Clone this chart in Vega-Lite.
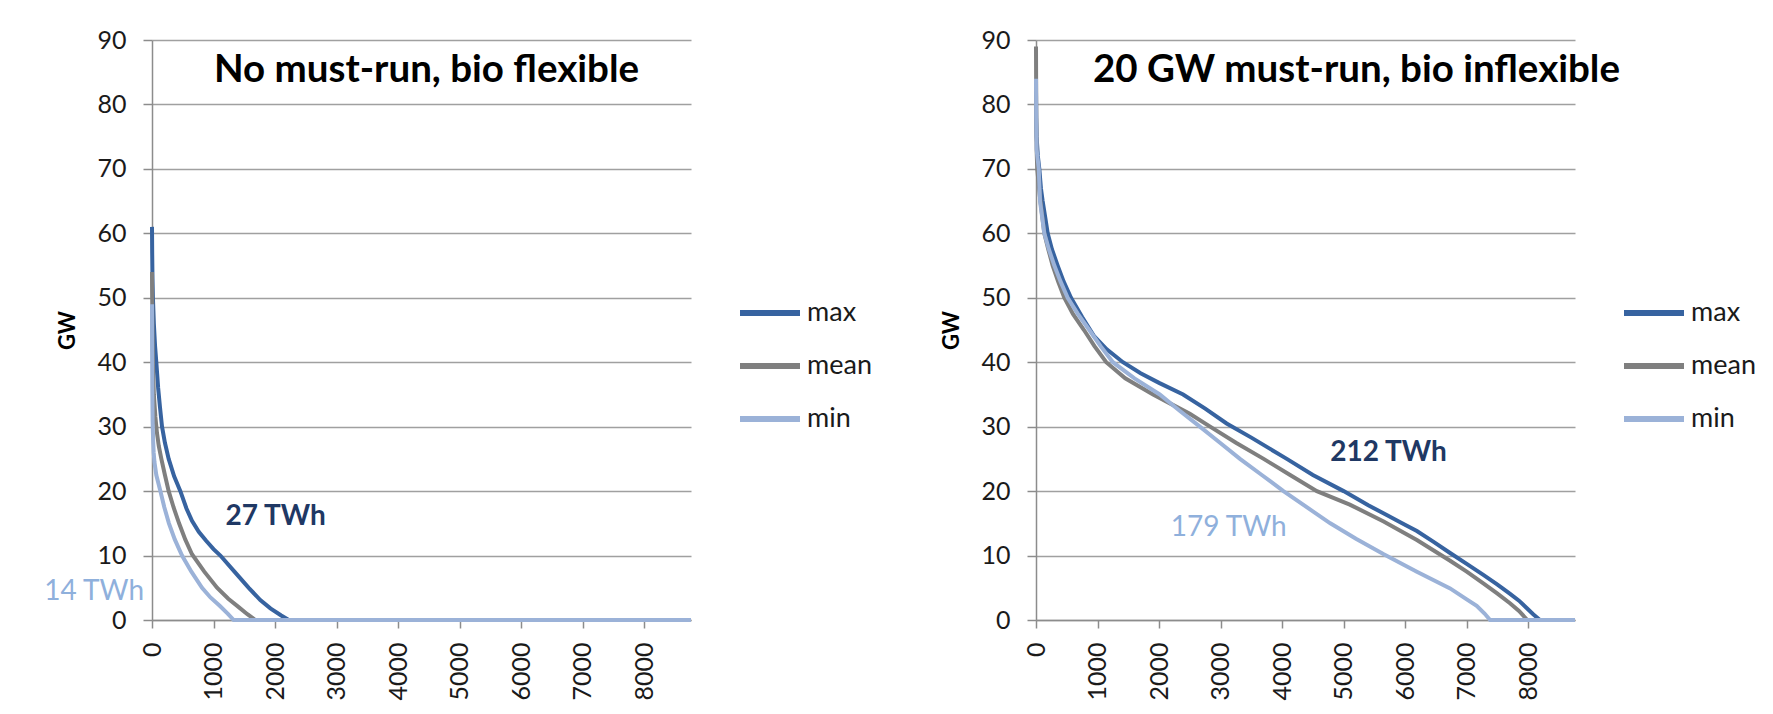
{
  "$schema": "https://vega.github.io/schema/vega-lite/v6.json",
  "background": "white",
  "padding": {"left": 43, "top": 28, "right": 0, "bottom": 0},
  "config": {
    "view": {"stroke": null},
    "font": "Lato",
    "axis": {
      "labelFont": "Lato", "labelFontSize": 25, "labelColor": "#1a1a1a",
      "domainColor": "#8c8c8c", "domainWidth": 1.5,
      "tickColor": "#8c8c8c", "tickWidth": 1.5, "tickSize": 8,
      "gridColor": "#a0a0a0", "gridWidth": 1.5,
      "titleFont": "Lato", "titleFontSize": 22, "titleFontWeight": "bold", "titleColor": "#000000"
    },
    "legend": {"labelFont": "Lato", "labelFontSize": 27, "labelColor": "#1a1a1a"},
    "title": {"font": "Lato", "fontSize": 38.5, "fontWeight": "bold", "color": "#000000"}
  },
  "datasets": {
    "left": [
      {"series": "max", "hours": 0, "gw": 61}, {"series": "max", "hours": 3, "gw": 57}, {"series": "max", "hours": 8, "gw": 53},
      {"series": "max", "hours": 15, "gw": 50}, {"series": "max", "hours": 30, "gw": 46}, {"series": "max", "hours": 50, "gw": 42.5},
      {"series": "max", "hours": 70, "gw": 40}, {"series": "max", "hours": 100, "gw": 36}, {"series": "max", "hours": 130, "gw": 33},
      {"series": "max", "hours": 163, "gw": 30}, {"series": "max", "hours": 210, "gw": 27.5}, {"series": "max", "hours": 271, "gw": 25},
      {"series": "max", "hours": 360, "gw": 22.3}, {"series": "max", "hours": 461, "gw": 20}, {"series": "max", "hours": 560, "gw": 17.3},
      {"series": "max", "hours": 650, "gw": 15.4}, {"series": "max", "hours": 760, "gw": 13.7}, {"series": "max", "hours": 880, "gw": 12.3},
      {"series": "max", "hours": 1000, "gw": 11}, {"series": "max", "hours": 1111, "gw": 10},
      {"series": "max", "hours": 1340, "gw": 7.5}, {"series": "max", "hours": 1572, "gw": 5}, {"series": "max", "hours": 1760, "gw": 3.1},
      {"series": "max", "hours": 1924, "gw": 1.8}, {"series": "max", "hours": 2100, "gw": 0.7}, {"series": "max", "hours": 2222, "gw": 0},
      {"series": "max", "hours": 8760, "gw": 0},
      {"series": "mean", "hours": 0, "gw": 54}, {"series": "mean", "hours": 3, "gw": 50}, {"series": "mean", "hours": 8, "gw": 45},
      {"series": "mean", "hours": 15, "gw": 40}, {"series": "mean", "hours": 30, "gw": 35}, {"series": "mean", "hours": 55, "gw": 31.5},
      {"series": "mean", "hours": 81, "gw": 29}, {"series": "mean", "hours": 110, "gw": 27}, {"series": "mean", "hours": 152, "gw": 25},
      {"series": "mean", "hours": 210, "gw": 22.5}, {"series": "mean", "hours": 271, "gw": 20}, {"series": "mean", "hours": 350, "gw": 17.5},
      {"series": "mean", "hours": 440, "gw": 15}, {"series": "mean", "hours": 540, "gw": 12.5}, {"series": "mean", "hours": 650, "gw": 10.2},
      {"series": "mean", "hours": 850, "gw": 7.5}, {"series": "mean", "hours": 1057, "gw": 5}, {"series": "mean", "hours": 1240, "gw": 3.3},
      {"series": "mean", "hours": 1409, "gw": 2}, {"series": "mean", "hours": 1550, "gw": 0.9}, {"series": "mean", "hours": 1680, "gw": 0},
      {"series": "mean", "hours": 8760, "gw": 0},
      {"series": "min", "hours": 0, "gw": 49}, {"series": "min", "hours": 2, "gw": 42}, {"series": "min", "hours": 5, "gw": 36},
      {"series": "min", "hours": 10, "gw": 31}, {"series": "min", "hours": 18, "gw": 28}, {"series": "min", "hours": 27, "gw": 26},
      {"series": "min", "hours": 40, "gw": 24.5}, {"series": "min", "hours": 70, "gw": 22.5}, {"series": "min", "hours": 136, "gw": 20},
      {"series": "min", "hours": 200, "gw": 17.5}, {"series": "min", "hours": 275, "gw": 15}, {"series": "min", "hours": 370, "gw": 12.5},
      {"series": "min", "hours": 488, "gw": 10}, {"series": "min", "hours": 640, "gw": 7.5}, {"series": "min", "hours": 813, "gw": 5},
      {"series": "min", "hours": 950, "gw": 3.5}, {"series": "min", "hours": 1100, "gw": 2.2}, {"series": "min", "hours": 1230, "gw": 1},
      {"series": "min", "hours": 1328, "gw": 0}, {"series": "min", "hours": 8760, "gw": 0}
    ],
    "right": [
      {"series": "max", "hours": 0, "gw": 82}, {"series": "max", "hours": 3, "gw": 78}, {"series": "max", "hours": 10, "gw": 75},
      {"series": "max", "hours": 30, "gw": 72}, {"series": "max", "hours": 54, "gw": 70}, {"series": "max", "hours": 80, "gw": 67},
      {"series": "max", "hours": 108, "gw": 65}, {"series": "max", "hours": 150, "gw": 62.5}, {"series": "max", "hours": 190, "gw": 60},
      {"series": "max", "hours": 260, "gw": 57.5}, {"series": "max", "hours": 352, "gw": 55}, {"series": "max", "hours": 450, "gw": 52.5},
      {"series": "max", "hours": 569, "gw": 50}, {"series": "max", "hours": 750, "gw": 47}, {"series": "max", "hours": 948, "gw": 44},
      {"series": "max", "hours": 1150, "gw": 42}, {"series": "max", "hours": 1413, "gw": 40}, {"series": "max", "hours": 1700, "gw": 38.3},
      {"series": "max", "hours": 2000, "gw": 36.8}, {"series": "max", "hours": 2391, "gw": 35}, {"series": "max", "hours": 2750, "gw": 32.8},
      {"series": "max", "hours": 3098, "gw": 30.5}, {"series": "max", "hours": 3500, "gw": 28.3}, {"series": "max", "hours": 4076, "gw": 25},
      {"series": "max", "hours": 4500, "gw": 22.5}, {"series": "max", "hours": 5000, "gw": 20}, {"series": "max", "hours": 5400, "gw": 17.8},
      {"series": "max", "hours": 5700, "gw": 16.3}, {"series": "max", "hours": 5950, "gw": 15}, {"series": "max", "hours": 6190, "gw": 13.8},
      {"series": "max", "hours": 6450, "gw": 12.2}, {"series": "max", "hours": 6730, "gw": 10.4}, {"series": "max", "hours": 7000, "gw": 8.7},
      {"series": "max", "hours": 7270, "gw": 7}, {"series": "max", "hours": 7500, "gw": 5.5}, {"series": "max", "hours": 7700, "gw": 4.1},
      {"series": "max", "hours": 7850, "gw": 3}, {"series": "max", "hours": 7970, "gw": 1.9}, {"series": "max", "hours": 8080, "gw": 0.9},
      {"series": "max", "hours": 8190, "gw": 0}, {"series": "max", "hours": 8760, "gw": 0},
      {"series": "mean", "hours": 0, "gw": 89}, {"series": "mean", "hours": 2, "gw": 84}, {"series": "mean", "hours": 5, "gw": 78},
      {"series": "mean", "hours": 10, "gw": 73}, {"series": "mean", "hours": 20, "gw": 70}, {"series": "mean", "hours": 60, "gw": 66},
      {"series": "mean", "hours": 135, "gw": 60}, {"series": "mean", "hours": 200, "gw": 57.5}, {"series": "mean", "hours": 271, "gw": 55},
      {"series": "mean", "hours": 360, "gw": 52.5}, {"series": "mean", "hours": 460, "gw": 50}, {"series": "mean", "hours": 600, "gw": 47.5},
      {"series": "mean", "hours": 780, "gw": 45}, {"series": "mean", "hours": 950, "gw": 42.5}, {"series": "mean", "hours": 1141, "gw": 40},
      {"series": "mean", "hours": 1450, "gw": 37.5}, {"series": "mean", "hours": 1902, "gw": 35}, {"series": "mean", "hours": 2200, "gw": 33.5},
      {"series": "mean", "hours": 2500, "gw": 32}, {"series": "mean", "hours": 2830, "gw": 30}, {"series": "mean", "hours": 3250, "gw": 27.5},
      {"series": "mean", "hours": 3700, "gw": 25}, {"series": "mean", "hours": 4130, "gw": 22.5}, {"series": "mean", "hours": 4565, "gw": 20},
      {"series": "mean", "hours": 5100, "gw": 17.9}, {"series": "mean", "hours": 5650, "gw": 15.3}, {"series": "mean", "hours": 6190, "gw": 12.4},
      {"series": "mean", "hours": 6730, "gw": 9.2}, {"series": "mean", "hours": 7000, "gw": 7.5}, {"series": "mean", "hours": 7270, "gw": 5.7},
      {"series": "mean", "hours": 7500, "gw": 4.1}, {"series": "mean", "hours": 7703, "gw": 2.6}, {"series": "mean", "hours": 7850, "gw": 1.4},
      {"series": "mean", "hours": 7985, "gw": 0}, {"series": "mean", "hours": 8760, "gw": 0},
      {"series": "min", "hours": 0, "gw": 84}, {"series": "min", "hours": 3, "gw": 78}, {"series": "min", "hours": 10, "gw": 73},
      {"series": "min", "hours": 45, "gw": 70}, {"series": "min", "hours": 65, "gw": 65}, {"series": "min", "hours": 135, "gw": 60},
      {"series": "min", "hours": 210, "gw": 57.5}, {"series": "min", "hours": 298, "gw": 55}, {"series": "min", "hours": 400, "gw": 52.5},
      {"series": "min", "hours": 515, "gw": 50}, {"series": "min", "hours": 680, "gw": 47.5}, {"series": "min", "hours": 867, "gw": 45},
      {"series": "min", "hours": 1050, "gw": 42.5}, {"series": "min", "hours": 1250, "gw": 40}, {"series": "min", "hours": 1600, "gw": 37.5},
      {"series": "min", "hours": 2011, "gw": 35}, {"series": "min", "hours": 2330, "gw": 32.5}, {"series": "min", "hours": 2663, "gw": 30},
      {"series": "min", "hours": 2990, "gw": 27.5}, {"series": "min", "hours": 3315, "gw": 25}, {"series": "min", "hours": 3670, "gw": 22.5},
      {"series": "min", "hours": 4022, "gw": 20}, {"series": "min", "hours": 4400, "gw": 17.5}, {"series": "min", "hours": 4783, "gw": 15},
      {"series": "min", "hours": 5200, "gw": 12.6}, {"series": "min", "hours": 5652, "gw": 10.2}, {"series": "min", "hours": 6190, "gw": 7.5},
      {"series": "min", "hours": 6730, "gw": 4.9}, {"series": "min", "hours": 7000, "gw": 3.2}, {"series": "min", "hours": 7162, "gw": 2.2},
      {"series": "min", "hours": 7290, "gw": 1}, {"series": "min", "hours": 7380, "gw": 0}, {"series": "min", "hours": 8760, "gw": 0}
    ]
  },
  "spacing": 68,
  "resolve": {"scale": {"color": "independent"}, "legend": {"color": "independent"}},
  "hconcat": [
    {
      "width": 539, "height": 580,
      "title": {"text": "No must-run, bio flexible", "anchor": "middle", "frame": "group", "baseline": "middle", "offset": -80, "dx": 5},
      "layer": [
        {
          "data": {"name": "left"},
          "mark": {"type": "line", "strokeWidth": 4},
          "encoding": {
            "x": {"field": "hours", "type": "quantitative", "scale": {"domain": [0, 8760], "nice": false},
                  "axis": {"title": null, "grid": false, "values": [0, 1000, 2000, 3000, 4000, 5000, 6000, 7000, 8000], "format": "d", "labelAngle": 270, "labelPadding": 14}},
            "y": {"field": "gw", "type": "quantitative", "scale": {"domain": [0, 90], "nice": false},
                  "axis": {"title": "GW", "values": [0, 10, 20, 30, 40, 50, 60, 70, 80, 90], "tickSize": 9, "labelPadding": 17, "titlePadding": 17}},
            "color": {"field": "series", "type": "nominal",
                      "scale": {"domain": ["max", "mean", "min"], "range": ["#3763a0", "#7f7f7f", "#9bb2d8"]},
                      "legend": {"orient": "none", "legendX": 585, "legendY": 240, "title": null, "symbolType": "stroke", "symbolSize": 3600, "symbolStrokeWidth": 6, "rowPadding": 7, "labelOffset": 4}}
          }
        },
        {
          "data": {"values": [{}]},
          "mark": {"type": "text", "text": "27 TWh", "font": "Lato", "fontSize": 28, "fontWeight": "bold", "color": "#1f3864"},
          "encoding": {"x": {"datum": 2011}, "y": {"datum": 16.0}}
        },
        {
          "data": {"values": [{}]},
          "mark": {"type": "text", "text": "14 TWh", "font": "Lato", "fontSize": 28, "color": "#8fb0dc"},
          "encoding": {"x": {"datum": -940}, "y": {"datum": 4.4}}
        }
      ]
    },
    {
      "width": 539, "height": 580,
      "title": {"text": "20 GW must-run, bio inflexible", "anchor": "middle", "frame": "group", "baseline": "middle", "offset": -80, "dx": 51},
      "layer": [
        {
          "data": {"name": "right"},
          "mark": {"type": "line", "strokeWidth": 4},
          "encoding": {
            "x": {"field": "hours", "type": "quantitative", "scale": {"domain": [0, 8760], "nice": false},
                  "axis": {"title": null, "grid": false, "values": [0, 1000, 2000, 3000, 4000, 5000, 6000, 7000, 8000], "format": "d", "labelAngle": 270, "labelPadding": 14}},
            "y": {"field": "gw", "type": "quantitative", "scale": {"domain": [0, 90], "nice": false},
                  "axis": {"title": "GW", "values": [0, 10, 20, 30, 40, 50, 60, 70, 80, 90], "tickSize": 9, "labelPadding": 17, "titlePadding": 17}},
            "color": {"field": "series", "type": "nominal",
                      "scale": {"domain": ["max", "mean", "min"], "range": ["#3763a0", "#7f7f7f", "#9bb2d8"]},
                      "legend": {"orient": "none", "legendX": 585, "legendY": 240, "title": null, "symbolType": "stroke", "symbolSize": 3600, "symbolStrokeWidth": 6, "rowPadding": 7, "labelOffset": 4}}
          }
        },
        {
          "data": {"values": [{}]},
          "mark": {"type": "text", "text": "212 TWh", "font": "Lato", "fontSize": 28, "fontWeight": "bold", "color": "#1f3864"},
          "encoding": {"x": {"datum": 5730}, "y": {"datum": 25.9}}
        },
        {
          "data": {"values": [{}]},
          "mark": {"type": "text", "text": "179 TWh", "font": "Lato", "fontSize": 28, "color": "#8fb0dc"},
          "encoding": {"x": {"datum": 3132}, "y": {"datum": 14.3}}
        }
      ]
    }
  ]
}
